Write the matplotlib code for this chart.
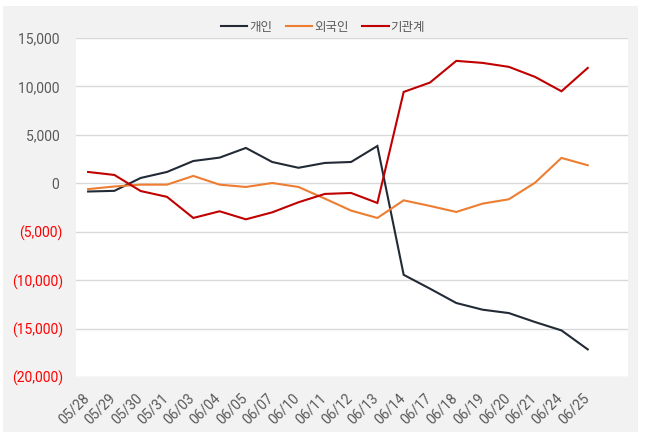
import matplotlib
matplotlib.use('Agg')

import matplotlib.pyplot as plt
import matplotlib.patches as patches
from matplotlib.transforms import ScaledTranslation
from matplotlib.ticker import FuncFormatter

plt.rcParams['font.family'] = ['Roboto', 'Noto Sans CJK KR', 'DejaVu Sans']
plt.rcParams['font.size'] = 10

#### ========================================================  data
dates = ['05/28', '05/29', '05/30', '05/31', '06/03', '06/04', '06/05', '06/07',
         '06/10', '06/11', '06/12', '06/13', '06/14', '06/17', '06/18', '06/19',
         '06/20', '06/21', '06/24', '06/25']

individual = [-850, -780, 550, 1170, 2300, 2650, 3650, 2200, 1600, 2100,
              2200, 3850, -9450, -10880, -12360, -13050, -13400, -14330, -15190, -17150]
foreign = [-600, -330, -140, -140, 760, -140, -380, 30, -380, -1580,
           -2820, -3580, -1760, -2340, -2960, -2100, -1650, 70, 2620, 1860]
institution = [1170, 860, -800, -1400, -3580, -2890, -3720, -3000, -1960, -1100,
               -1000, -2030, 9430, 10400, 12640, 12430, 12020, 10980, 9500, 11910]

series_names = ['개인', '외국인', '기관계']
series_colors = ['#222a35', '#ed7d31', '#c00000']

#### ========================================================  plot
W, H = 645, 438
fig = plt.figure(figsize=(W / 100, H / 100), dpi=100)
fig.patch.set_facecolor('white')
bg = patches.Rectangle((3 / W, 6 / H), 635 / W, 426 / H, transform=fig.transFigure,
                       facecolor='#f2f2f2', edgecolor='none', zorder=-10)
fig.add_artist(bg)

ax = fig.add_axes([76 / W, (H - 377) / H, (628 - 76) / W, (377 - 38) / H])
ax.set_facecolor('white')

x = list(range(len(dates)))
for vals, name, col in zip([individual, foreign, institution], series_names, series_colors):
    ax.plot(x, vals, color=col, lw=1.5, label=name, solid_joinstyle='miter')

ax.set_ylim(-20000, 15000)
ax.set_yticks(range(-20000, 15001, 5000))
ax.set_xlim(-0.46, 20.53)
ax.set_xticks(x)
ax.set_xticklabels(dates, rotation=45, ha='right', va='top', color='#595959')


def yfmt(v, pos):
    if v < 0:
        return '({:,.0f})'.format(-v)
    return '{:,.0f} '.format(v)


ax.yaxis.set_major_formatter(FuncFormatter(yfmt))
ax.tick_params(axis='both', length=0)
ax.tick_params(axis='y', pad=9.5, labelcolor='#595959')
ax.tick_params(axis='x', pad=10)
for lbl, v in zip(ax.get_yticklabels(), ax.get_yticks()):
    if v < 0:
        lbl.set_color('#ff0000')
for lbl in ax.get_xticklabels():
    lbl.set_transform(lbl.get_transform() + ScaledTranslation(4 / 100, 0, fig.dpi_scale_trans))

ax.grid(axis='y', color='#d9d9d9', lw=1.0)
ax.set_axisbelow(True)
for s in ax.spines.values():
    s.set_visible(False)

leg = fig.legend(loc='center', bbox_to_anchor=(323 / W, 1 - 27 / H), ncol=3, frameon=False,
                 handlelength=2.1, handletextpad=0.15, columnspacing=1.1,
                 prop={'family': ['Noto Sans CJK KR', 'DejaVu Sans'], 'size': 9})
for t in leg.get_texts():
    t.set_color('#595959')

fig.savefig('out.png', dpi=100, facecolor='white')
